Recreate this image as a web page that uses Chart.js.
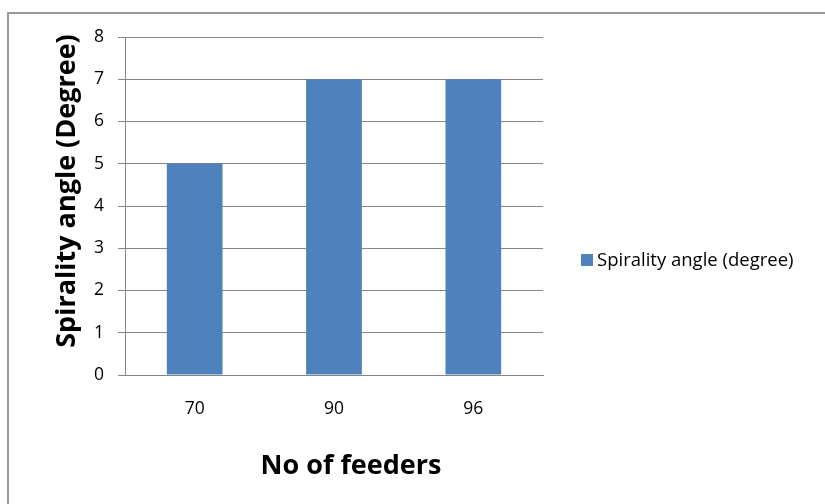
<!DOCTYPE html>
<html>
<head>
<meta charset="utf-8">
<script src="https://cdn.jsdelivr.net/npm/chart.js@4/dist/chart.umd.min.js"></script>
<style>
  html, body { margin: 0; padding: 0; background: #fff; }
  #wrap { position: relative; width: 825px; height: 504px; }
</style>
</head>
<body>
<div id="wrap"><canvas id="chart" width="825" height="504"></canvas></div>
<script>
// Number of feeders and the resulting spirality angle
const feeders = ['70', '90', '96'];
const spiralityAngle = [5, 7, 7];
const yTicks = [0, 1, 2, 3, 4, 5, 6, 7, 8];

const seriesName = 'Spirality angle (degree)';
const xTitle = 'No of feeders';
const yTitle = 'Spirality angle (Degree)';
const barColor = '#4F81BD';
const gridColor = '#868686';
const fontFamily = '"Open Sans", "Noto Sans", "Liberation Sans", sans-serif';

// Outer frame of the chart object (right/bottom edges run off the page)
const framePlugin = {
  id: 'frame',
  beforeDraw(chart) {
    const ctx = chart.ctx;
    ctx.save();
    ctx.fillStyle = '#ffffff';
    ctx.fillRect(0, 0, chart.width, chart.height);
    ctx.strokeStyle = '#9a9a9a';
    ctx.lineWidth = 2;
    ctx.strokeRect(8, 13, chart.width + 20, chart.height + 20);
    ctx.restore();
  }
};

// Axis titles, placed slightly off the plot centre like the source layout
const axisTitles = {
  id: 'axisTitles',
  afterDraw(chart) {
    const ctx = chart.ctx;
    const area = chart.chartArea;
    ctx.save();
    ctx.fillStyle = '#000000';
    ctx.font = 'bold 27px ' + fontFamily;
    ctx.textAlign = 'center';
    ctx.textBaseline = 'middle';
    // horizontal title under the category labels
    ctx.fillText(xTitle, (area.left + area.right) / 2 + 17, area.bottom + 91);
    // vertical title left of the value labels
    ctx.translate(area.left - 58, (area.top + area.bottom) / 2 - 15);
    ctx.rotate(-Math.PI / 2);
    ctx.fillText(yTitle, 0, 0);
    ctx.restore();
  }
};

// Legend entry to the right of the plot
const sideLegend = {
  id: 'sideLegend',
  afterDraw(chart) {
    const ctx = chart.ctx;
    const ds = chart.data.datasets[0];
    const x = 581, y = 260;
    ctx.save();
    ctx.fillStyle = ds.backgroundColor;
    ctx.fillRect(x, y - 6, 12, 12);
    ctx.fillStyle = '#000000';
    ctx.font = '18.5px ' + fontFamily;
    ctx.textBaseline = 'middle';
    ctx.textAlign = 'left';
    ctx.fillText(ds.label, x + 16, y + 1);
    ctx.restore();
  }
};

new Chart(document.getElementById('chart'), {
  type: 'bar',
  data: {
    labels: feeders,
    datasets: [{
      label: seriesName,
      data: spiralityAngle,
      backgroundColor: barColor,
      borderWidth: 0,
      categoryPercentage: 1,
      barPercentage: 0.4
    }]
  },
  options: {
    responsive: false,
    animation: false,
    devicePixelRatio: 1,
    layout: { padding: { left: 8, top: 37, right: 282, bottom: 8 } },
    plugins: {
      legend: { display: false },
      tooltip: { enabled: false }
    },
    scales: {
      x: {
        grid: { display: false, drawTicks: false },
        border: { display: true, color: gridColor, width: 1 },
        ticks: { color: '#000', font: { family: fontFamily, size: 17.5 }, padding: 24 },
        title: { display: false, text: xTitle },
        afterFit(scale) { scale.height = 121; }
      },
      y: {
        min: 0,
        max: 8,
        afterBuildTicks(scale) { scale.ticks = yTicks.map(v => ({ value: v })); },
        grid: { color: gridColor, lineWidth: 1, drawTicks: true, tickLength: 7 },
        border: { display: true, color: gridColor, width: 1 },
        ticks: { color: '#000', font: { family: fontFamily, size: 17.5 }, padding: 14 },
        title: { display: false, text: yTitle },
        afterFit(scale) { scale.width = 117; }
      }
    }
  },
  plugins: [framePlugin, axisTitles, sideLegend]
});
</script>
</body>
</html>
